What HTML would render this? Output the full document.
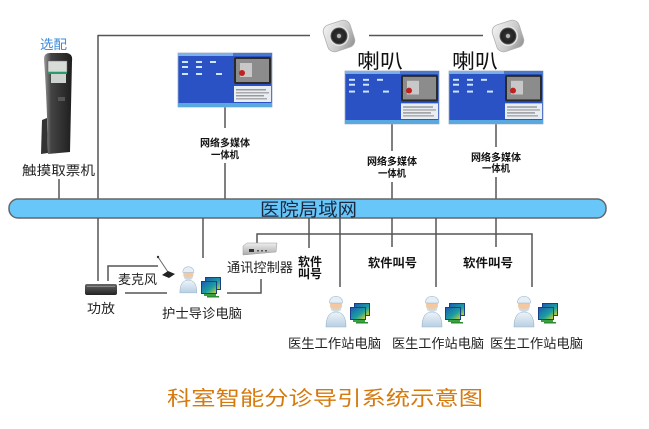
<!DOCTYPE html>
<html><head><meta charset="utf-8">
<style>
html,body{margin:0;padding:0;background:#fff;width:649px;height:429px;overflow:hidden;}
svg{display:block;}
text{font-family:"Liberation Sans","Noto Sans CJK SC",sans-serif;}
</style></head><body>
<svg width="649" height="429" viewBox="0 0 649 429" xmlns="http://www.w3.org/2000/svg">
<defs>
 <linearGradient id="spk" x1="0" y1="0" x2="1" y2="1"><stop offset="0" stop-color="#f6f6f6"/><stop offset="0.6" stop-color="#c8c8c8"/><stop offset="1" stop-color="#8a8a8a"/></linearGradient>
 <radialGradient id="cone"><stop offset="0" stop-color="#aaa"/><stop offset="0.25" stop-color="#333"/><stop offset="0.8" stop-color="#222"/><stop offset="1" stop-color="#666"/></radialGradient>
 <linearGradient id="kio" x1="0" x2="1"><stop offset="0" stop-color="#9a9a9a"/><stop offset="0.25" stop-color="#444"/><stop offset="1" stop-color="#1e1e1e"/></linearGradient>
 <linearGradient id="amp" x1="0" y1="0" x2="0" y2="1"><stop offset="0" stop-color="#666"/><stop offset="1" stop-color="#222"/></linearGradient>
 <linearGradient id="ctl" x1="0" y1="0" x2="0" y2="1"><stop offset="0" stop-color="#eee"/><stop offset="1" stop-color="#aaa"/></linearGradient>
 <linearGradient id="scr" x1="0" y1="0" x2="1" y2="1"><stop offset="0" stop-color="#1e5fb0"/><stop offset="0.6" stop-color="#1aa0a0"/><stop offset="1" stop-color="#c8d030"/></linearGradient>
 <linearGradient id="coat" x1="0" y1="0" x2="0" y2="1"><stop offset="0" stop-color="#eef4fa"/><stop offset="1" stop-color="#b8cfe2"/></linearGradient>

 <g id="mon">
  <rect x="0" y="0" width="94" height="54" fill="#2a52c4" stroke="#9aaccc" stroke-width="0.8"/>
  <rect x="0" y="0" width="94" height="3" fill="#7fb0e8"/>
  <rect x="55" y="0" width="39" height="3" fill="#4a78c8"/>
  <rect x="0" y="50" width="94" height="4" fill="#5aa8e0"/>
  <rect x="56" y="4" width="37" height="27" rx="2" fill="#2a2a2a"/>
  <rect x="58" y="6" width="33" height="23" fill="#8c8c8c"/>
  <rect x="62" y="10" width="12" height="14" fill="#c8c8c8"/>
  <circle cx="64" cy="20" r="3" fill="#c02020"/>
  <rect x="56" y="33" width="37" height="16" fill="#e8eef4"/>
  <rect x="58" y="36" width="30" height="1.5" fill="#999"/>
  <rect x="58" y="39" width="33" height="1.5" fill="#aaa"/>
  <rect x="58" y="42" width="28" height="1.5" fill="#999"/>
  <rect x="58" y="45" width="31" height="1.5" fill="#aaa"/>
  <g fill="#cfe6ff">
   <rect x="4" y="8" width="6" height="2"/><rect x="18" y="8" width="6" height="2"/><rect x="32" y="8" width="6" height="2"/>
   <rect x="4" y="13" width="6" height="2"/><rect x="18" y="13" width="6" height="2"/>
   <rect x="4" y="20" width="6" height="2"/><rect x="18" y="20" width="6" height="2"/><rect x="38" y="20" width="6" height="2"/>
  </g>
 </g>

 <g id="spkr">
  <g transform="rotate(-18)">
   <rect x="-14" y="-14" width="28" height="28" rx="7" fill="url(#spk)" stroke="#b0b0b0" stroke-width="0.8"/>
   <circle r="10" fill="#e6e6e6"/>
   <circle r="8.5" fill="url(#cone)"/>
   <circle r="2.2" fill="#b0b0b0"/>
  </g>
 </g>

 <g id="pc">
  <rect x="4" y="0" width="16" height="13" fill="#1a3f8a"/>
  <rect x="5" y="1" width="14" height="11" fill="url(#scr)"/>
  <rect x="0" y="4" width="16" height="13" fill="#1a3f8a"/>
  <rect x="1" y="5" width="14" height="11" fill="url(#scr)"/>
  <rect x="3" y="17" width="12" height="2" fill="#3aa040"/>
  <rect x="6" y="19" width="12" height="1.5" fill="#2c8a30"/>
 </g>

 <g id="doc">
  <path d="M1,34 C1,23 5,19 11,19 C17,19 21,23 21,34 Z" fill="url(#coat)" stroke="#9ab4c8" stroke-width="0.6"/>
  <ellipse cx="11" cy="12" rx="6" ry="7" fill="#f2c9a2"/>
  <path d="M4.5,10 C4,1 18,1 17.5,10 Z" fill="#e6eef6" stroke="#9ab4c8" stroke-width="0.6"/>
  <path d="M6,14 Q11,19 16,14 L16,17 Q11,21 6,17 Z" fill="#c8dcea"/>
 </g>
</defs>

<!-- top connection lines -->
<g stroke="#555" stroke-width="1.5" fill="none">
 <line x1="98" y1="35.5" x2="310" y2="35.5"/>
 <line x1="369" y1="35.5" x2="483" y2="35.5"/>
 <line x1="98" y1="35" x2="98" y2="199"/>
 <line x1="59" y1="179" x2="59" y2="199"/>
 <line x1="225" y1="107" x2="225" y2="128"/>
 <line x1="225" y1="163" x2="225" y2="199"/>
 <line x1="392" y1="124" x2="392" y2="151"/>
 <line x1="392" y1="182" x2="392" y2="199"/>
 <line x1="496" y1="124" x2="496" y2="147"/>
 <line x1="496" y1="177" x2="496" y2="199"/>
</g>

<!-- speakers -->
<use href="#spkr" x="339" y="36"/>
<use href="#spkr" x="508" y="36"/>

<!-- monitors -->
<use href="#mon" x="178" y="53"/>
<g transform="translate(345,71) scale(1,0.98)"><use href="#mon"/></g>
<g transform="translate(449,71) scale(1,0.98)"><use href="#mon"/></g>

<!-- kiosk -->
<text x="40" y="49" font-size="13" fill="#3a8ad8" textLength="27" lengthAdjust="spacingAndGlyphs">选配</text>
<path d="M42,120 L47,118 L48,153 L41,154 Z" fill="#333"/>
<path d="M44,59 Q44,53 50,53 L67,53 Q73,54 72,61 L70,152 L48,154 Q47,100 44,59 Z" fill="url(#kio)"/>
<rect x="48" y="61" width="19" height="11" fill="#d8dcd8" stroke="#666" stroke-width="0.5"/>
<rect x="48" y="72" width="19" height="2" fill="#2a9a6a"/>
<rect x="51" y="74" width="15" height="9" fill="#cfd3cf"/>
<rect x="58" y="97" width="7" height="4" fill="#555"/>

<text x="22" y="175" font-size="13" fill="#222" textLength="73" lengthAdjust="spacingAndGlyphs">触摸取票机</text>

<!-- monitor labels -->
<g font-size="10" font-weight="bold" fill="#111" text-anchor="middle">
 <text x="225" y="146.5" textLength="50" lengthAdjust="spacingAndGlyphs">网络多媒体</text>
 <text x="225" y="158.5" textLength="28" lengthAdjust="spacingAndGlyphs">一体机</text>
 <text x="392" y="165" textLength="50" lengthAdjust="spacingAndGlyphs">网络多媒体</text>
 <text x="392" y="177" textLength="28" lengthAdjust="spacingAndGlyphs">一体机</text>
 <text x="496" y="161" textLength="50" lengthAdjust="spacingAndGlyphs">网络多媒体</text>
 <text x="496" y="172" textLength="28" lengthAdjust="spacingAndGlyphs">一体机</text>
</g>

<g font-size="20" fill="#111">
 <text x="357" y="68" textLength="46" lengthAdjust="spacingAndGlyphs">喇叭</text>
 <text x="452" y="68" textLength="46" lengthAdjust="spacingAndGlyphs">喇叭</text>
</g>

<!-- LAN bar -->
<rect x="9" y="199" width="597" height="19" rx="9" fill="#68c6f8" stroke="#666" stroke-width="1.5"/>
<text x="260" y="216" font-size="18" fill="#1a2840" textLength="97" lengthAdjust="spacingAndGlyphs">医院局域网</text>

<!-- lower lines -->
<g stroke="#555" stroke-width="1.5" fill="none">
 <line x1="98" y1="218" x2="98" y2="281"/>
 <line x1="203" y1="218" x2="203" y2="258"/>
 <polyline points="108,281 108,266 158,266"/>
 <line x1="125" y1="293" x2="167" y2="293"/>
 <polyline points="227,293 261,293 261,279"/>
 <polyline points="257,243 257,234 532,234 532,287"/>
 <line x1="309" y1="218" x2="309" y2="248"/>
 <line x1="340" y1="218" x2="340" y2="287"/>
 <line x1="392" y1="218" x2="392" y2="247"/>
 <line x1="436" y1="218" x2="436" y2="287"/>
 <line x1="496" y1="218" x2="496" y2="247"/>
</g>

<!-- amp -->
<rect x="85" y="284" width="32" height="11" rx="2" fill="url(#amp)"/>
<rect x="87" y="286" width="28" height="1" fill="#888"/>
<text x="87" y="313" font-size="13" fill="#222" textLength="28" lengthAdjust="spacingAndGlyphs">功放</text>

<!-- mic -->
<line x1="158" y1="257" x2="168" y2="272" stroke="#666" stroke-width="1"/>
<circle cx="158" cy="257" r="1.2" fill="#333"/>
<path d="M162,275 L168,271 L175,274 L169,278 Z" fill="#222"/>
<text x="118" y="284" font-size="13" fill="#222" textLength="39" lengthAdjust="spacingAndGlyphs">麦克风</text>

<!-- nurse -->
<g transform="translate(179,264) scale(0.85)"><use href="#doc"/></g>
<use href="#pc" x="201" y="277"/>
<text x="162" y="318" font-size="13" fill="#222" textLength="80" lengthAdjust="spacingAndGlyphs">护士导诊电脑</text>

<!-- controller -->
<path d="M243,246 L247,243 L277,243 L276,252 L243,255 Z" fill="url(#ctl)" stroke="#999" stroke-width="0.5"/>
<rect x="249" y="249" width="5" height="3" fill="#333"/>
<rect x="257" y="250" width="2" height="1.5" fill="#555"/><rect x="261" y="250" width="2" height="1.5" fill="#555"/><rect x="265" y="250" width="2" height="1.5" fill="#555"/>
<text x="227" y="272" font-size="13" fill="#222" textLength="66" lengthAdjust="spacingAndGlyphs">通讯控制器</text>

<!-- 软件叫号 -->
<g font-size="12" font-weight="bold" fill="#111">
 <text x="298" y="266" textLength="24" lengthAdjust="spacingAndGlyphs">软件</text>
 <text x="298" y="278" textLength="24" lengthAdjust="spacingAndGlyphs">叫号</text>
 <text x="368" y="267" textLength="49" lengthAdjust="spacingAndGlyphs">软件叫号</text>
 <text x="463" y="267" textLength="50" lengthAdjust="spacingAndGlyphs">软件叫号</text>
</g>

<!-- doctors -->
<use href="#doc" x="325" y="293"/>
<use href="#pc" x="350" y="303"/>
<use href="#doc" x="421" y="293"/>
<use href="#pc" x="445" y="303"/>
<use href="#doc" x="513" y="293"/>
<use href="#pc" x="538" y="303"/>

<g font-size="13" fill="#222">
 <text x="288" y="348" textLength="93" lengthAdjust="spacingAndGlyphs">医生工作站电脑</text>
 <text x="392" y="348" textLength="92" lengthAdjust="spacingAndGlyphs">医生工作站电脑</text>
 <text x="490" y="348" textLength="93" lengthAdjust="spacingAndGlyphs">医生工作站电脑</text>
</g>

<!-- title -->
<text x="167" y="405" font-size="20" fill="#d67a0e" textLength="316" lengthAdjust="spacingAndGlyphs">科室智能分诊导引系统示意图</text>
</svg>
</body></html>
